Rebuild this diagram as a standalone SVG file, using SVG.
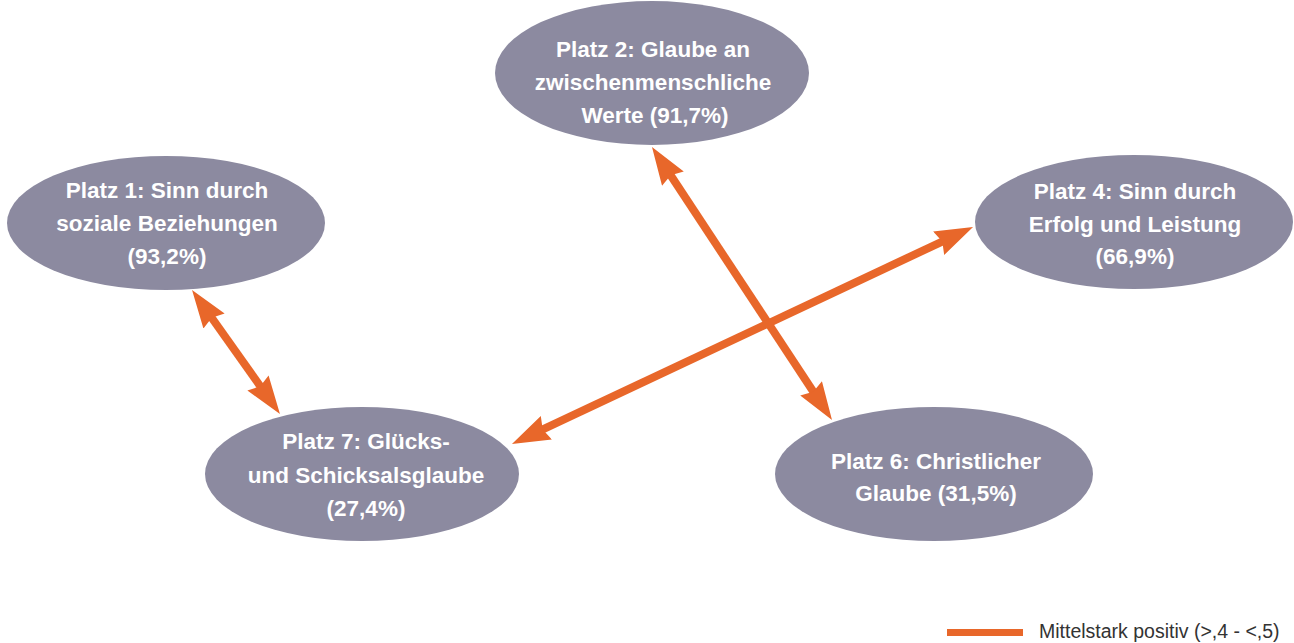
<svg xmlns="http://www.w3.org/2000/svg" width="1294" height="643" viewBox="0 0 1294 643">
<style>
.node ellipse{fill:#8C8AA0}
.node text{font-family:"Liberation Sans",Arial,sans-serif;font-weight:bold;font-size:22.5px;fill:#fff;text-anchor:middle}
.conn line{stroke:#E8672A;stroke-width:8;fill:none}
.legend text{font-family:"Liberation Sans",Arial,sans-serif;font-size:19.5px;fill:#333}
</style>
<defs>
<marker id="ah" viewBox="0 0 38 26" markerUnits="userSpaceOnUse" markerWidth="38" markerHeight="26" refX="8" refY="13" orient="auto-start-reverse">
<path d="M0,0 L38,13 L0,26 L4,13 z" fill="#E8672A"/>
</marker>
</defs>
<rect width="1294" height="643" fill="#fff"/>
<g id="node-platz2" class="node">
<ellipse cx="652" cy="73" rx="157" ry="72"/>
<text x="653" y="57">Platz 2: Glaube an</text>
<text x="653" y="90">zwischenmenschliche</text>
<text x="655" y="123">Werte (91,7%)</text>
</g>
<g id="node-platz1" class="node">
<ellipse cx="166" cy="223" rx="159" ry="67"/>
<text x="167" y="198">Platz 1: Sinn durch</text>
<text x="167" y="231">soziale Beziehungen</text>
<text x="167" y="264">(93,2%)</text>
</g>
<g id="node-platz4" class="node">
<ellipse cx="1134" cy="222" rx="159" ry="67"/>
<text x="1135" y="199">Platz 4: Sinn durch</text>
<text x="1135" y="232">Erfolg und Leistung</text>
<text x="1135" y="264">(66,9%)</text>
</g>
<g id="node-platz7" class="node">
<ellipse cx="362" cy="474" rx="157" ry="67"/>
<text x="366" y="449">Platz 7: Glücks-</text>
<text x="366" y="483">und Schicksalsglaube</text>
<text x="366" y="516">(27,4%)</text>
</g>
<g id="node-platz6" class="node">
<ellipse cx="934" cy="474" rx="159" ry="67"/>
<text x="936" y="469">Platz 6: Christlicher</text>
<text x="936" y="501">Glaube (31,5%)</text>
</g>
<g id="connectors" class="conn">
<line x1="209.4" y1="314.5" x2="262.6" y2="389.5" marker-start="url(#ah)" marker-end="url(#ah)"/>
<line x1="668.5" y1="172" x2="815.5" y2="395" marker-start="url(#ah)" marker-end="url(#ah)"/>
<line x1="539.1" y1="431.2" x2="945.9" y2="239.8" marker-start="url(#ah)" marker-end="url(#ah)"/>
</g>
<g id="legend" class="legend">
<rect x="947" y="629" width="76" height="7" fill="#E8672A"/>
<text x="1039" y="638">Mittelstark positiv (&gt;,4 - &lt;,5)</text>
</g>
</svg>
